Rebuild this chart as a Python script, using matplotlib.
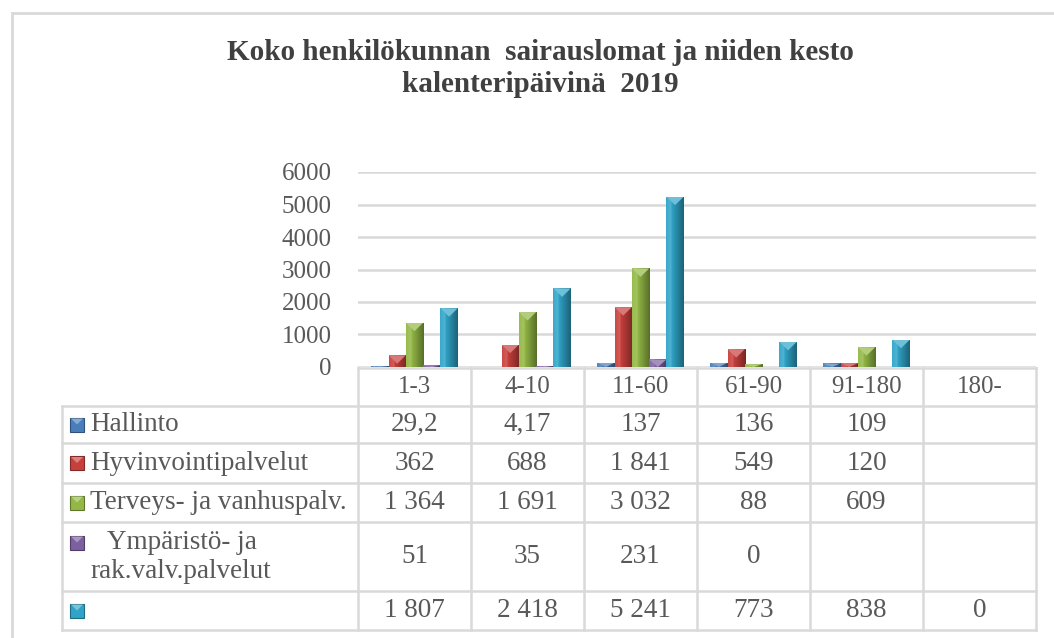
import numpy as np
import matplotlib
matplotlib.use("Agg")
from matplotlib import pyplot as plt
from matplotlib import transforms
from matplotlib.patches import Rectangle, Polygon
from matplotlib.lines import Line2D
from matplotlib.colors import to_rgb

# Data
categories = ["1-3", "4-10", "11-60", "61-90", "91-180", "180-"]
series_names = ["Hallinto", "Hyvinvointipalvelut", "Terveys- ja vanhuspalv.",
                "Ympäristö- ja\nrak.valv.palvelut", ""]
hallinto = [29.2, 4.17, 137, 136, 109, None]
hyvinvointi = [362, 688, 1841, 549, 120, None]
terveys = [1364, 1691, 3032, 88, 609, None]
ymparisto = [51, 35, 231, 0, None, None]
yhteensa = [1807, 2418, 5241, 773, 838, 0]
series = [hallinto, hyvinvointi, terveys, ymparisto, yhteensa]
colors = ["#4a7ebb", "#c8403c", "#93b845", "#7d60a0", "#30a4c8"]
yticks = [0, 1000, 2000, 3000, 4000, 5000, 6000]

plt.rcParams['font.family'] = ['Liberation Serif', 'DejaVu Serif']
TXT = "#595959"
GRID = "#d9d9d9"
W, H = 1054, 638


def fmt(v):
    if v is None:
        return ""
    if float(v).is_integer():
        return f"{int(v):,}".replace(",", " ")
    return str(v).replace(".", ",")


def mix(c, t, amt):
    c = np.array(to_rgb(c))
    t = np.array(t)
    return c * (1 - amt) + t * amt


def gradient(c, n=40):
    xs = np.linspace(0, 1, n)
    out = []
    for t in xs:
        if t < 0.3:
            out.append(mix(c, (1, 1, 1), 0.05 + 0.12 * t / 0.3))
        else:
            out.append(mix(c, (0, 0, 0), 0.4 * (t - 0.3) / 0.7))
    return np.array([out])


def fy(px):
    return 1 - px / H


fig = plt.figure(figsize=(W / 100, H / 100), dpi=100)
ax = fig.add_axes([358 / W, fy(367), (1036 - 358) / W, 195 / H])

n = len(series)
bw = 0.153
x = np.arange(len(categories))
for k, (vals, col) in enumerate(zip(series, colors)):
    v = np.array([np.nan if a is None else a for a in vals], dtype=float)
    bars = ax.bar(x + (k - (n - 1) / 2) * bw, v, bw, color=col, zorder=3)
    for p in bars:
        h = p.get_height()
        if not np.isfinite(h) or h <= 0:
            continue
        x0, y0, w = p.get_x(), p.get_y(), p.get_width()
        im = ax.imshow(gradient(col), extent=(x0, x0 + w, y0, y0 + h),
                       aspect='auto', zorder=4, interpolation='bilinear')
        im.set_clip_path(p)
        d = min(h, 260)
        tri = Polygon([(x0, y0 + h), (x0 + w, y0 + h), (x0 + w / 2, y0 + h - d)],
                      closed=True, fc=mix(col, (1, 1, 1), 0.3), ec='none', zorder=5)
        ax.add_patch(tri)
        tri.set_clip_path(p)

ax.set_xlim(-0.5, len(categories) - 0.5)
ax.set_ylim(0, 6000)
ax.set_yticks(yticks)
ax.set_xticks([])
ax.yaxis.grid(True, color=GRID, lw=1.8, zorder=0)
ax.set_axisbelow(True)
for s in ax.spines.values():
    s.set_visible(False)
ax.tick_params(axis='y', length=0, pad=19, labelsize=18, labelcolor=TXT)

# Title
fig.text(540 / W, fy(52), "Koko henkilökunnan  sairauslomat ja niiden kesto",
         ha='center', va='center', fontsize=21, fontweight='bold', color="#404040")
fig.text(540 / W, fy(85), "kalenteripäivinä  2019",
         ha='center', va='center', fontsize=21, fontweight='bold', color="#404040")

# Data table below the chart
tr = transforms.blended_transform_factory(ax.transData, fig.transFigure)
x_label_left = ax.transData.inverted().transform(fig.transFigure.transform((62 / W, 0)))[0]
col_edges = np.arange(len(categories) + 1) - 0.5
row_edges = [368, 406, 443, 483, 522, 591, 630]
x_right = col_edges[-1]


def hline(xa, xb, ypx):
    fig.add_artist(Line2D([xa, xb], [fy(ypx), fy(ypx)], transform=tr, color=GRID, lw=1.8))


def vline(xd, ya, yb):
    fig.add_artist(Line2D([xd, xd], [fy(ya), fy(yb)], transform=tr, color=GRID, lw=1.8))


hline(col_edges[0], x_right, row_edges[0])
for ry in row_edges[1:]:
    hline(x_label_left, x_right, ry)
for ce in col_edges:
    vline(ce, row_edges[0], row_edges[-1])
vline(x_label_left, row_edges[1], row_edges[-1])

for i, c in enumerate(categories):
    fig.text(i, fy((row_edges[0] + row_edges[1]) / 2), c, transform=tr,
             ha='center', va='center', fontsize=18, color=TXT)

for k, (name, vals, col) in enumerate(zip(series_names, series, colors)):
    top, bot = row_edges[k + 1], row_edges[k + 2]
    cy = (top + bot) / 2
    lines = name.split("\n")
    key_y = cy if len(lines) == 1 else cy - 14
    key = Rectangle((70 / W, fy(key_y + 7)), 14 / W, 14 / H, transform=fig.transFigure,
                    fc=col, ec=mix(col, (0, 0, 0), 0.35), lw=0.8)
    fig.add_artist(key)
    tri = Polygon([(71 / W, fy(key_y - 6)), (83 / W, fy(key_y - 6)), (77 / W, fy(key_y))],
                  closed=True, transform=fig.transFigure, fc=mix(col, (1, 1, 1), 0.35), ec='none')
    fig.add_artist(tri)
    if len(lines) == 1:
        fig.text(90 / W, fy(cy), lines[0], ha='left', va='center', fontsize=19.5, color=TXT)
    else:
        fig.text(107 / W, fy(cy - 14), lines[0], ha='left', va='center', fontsize=19.5, color=TXT)
        fig.text(90 / W, fy(cy + 15), lines[1], ha='left', va='center', fontsize=19.5, color=TXT)
    for i, v in enumerate(vals):
        fig.text(i, fy(cy), fmt(v), transform=tr, ha='center', va='center',
                 fontsize=19.5, color=TXT)

# chart frame
fig.add_artist(Rectangle((12 / W, -0.1), 1.2, fy(13) + 0.1, transform=fig.transFigure,
                         fill=False, ec=GRID, lw=2))

fig.savefig("out.png", dpi=100)
